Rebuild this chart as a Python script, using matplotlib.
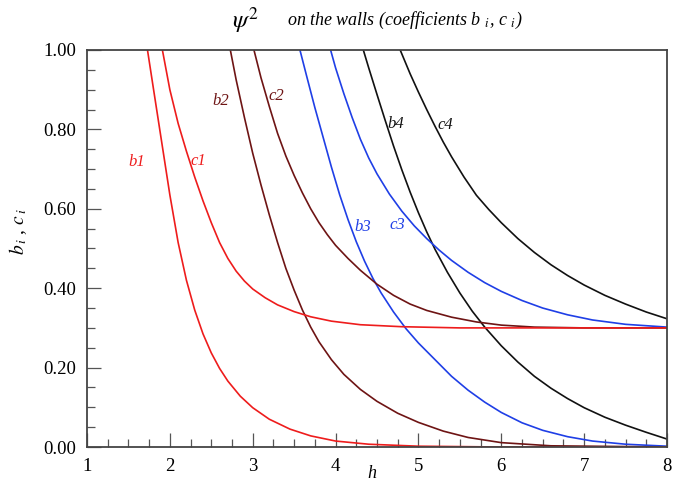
"""Recreate the psi^2 wall-coefficient chart (b_i, c_i vs h)."""
import matplotlib
matplotlib.use("Agg")
import matplotlib.pyplot as plt
from matplotlib.ticker import MultipleLocator

plt.rcParams["font.family"] = ["Liberation Serif", "DejaVu Serif"]
plt.rcParams["mathtext.fontset"] = "stix"

# values
b1_h = [1.73, 1.80, 1.90, 2.00, 2.10, 2.20, 2.30, 2.40, 2.50, 2.60, 2.70, 2.85, 3.00, 3.20,
        3.45, 3.70, 4.00, 4.40, 5.00, 6.00, 8.00]
b1_v = [1.00, 0.905, 0.77, 0.635, 0.515, 0.42, 0.345, 0.285, 0.237, 0.198, 0.166, 0.128, 0.099, 0.070,
        0.045, 0.028, 0.015, 0.007, 0.002, 0.0, 0.0]
c1_h = [1.91, 2.00, 2.10, 2.20, 2.30, 2.40, 2.50, 2.60, 2.70, 2.80, 2.90, 3.00, 3.15, 3.30,
        3.50, 3.70, 3.95, 4.30, 4.80, 5.50, 6.50, 8.00]
c1_v = [1.00, 0.90, 0.815, 0.745, 0.68, 0.62, 0.565, 0.515, 0.475, 0.443, 0.418, 0.398, 0.376, 0.358,
        0.341, 0.328, 0.317, 0.308, 0.303, 0.300, 0.300, 0.300]

b2_h = [2.73, 2.80, 2.90, 3.00, 3.10, 3.20, 3.30, 3.40, 3.50, 3.60, 3.70, 3.80, 3.95, 4.10,
        4.30, 4.50, 4.75, 5.00, 5.30, 5.60, 6.00, 6.60, 8.00]
b2_v = [1.00, 0.925, 0.83, 0.74, 0.66, 0.585, 0.515, 0.45, 0.395, 0.345, 0.302, 0.265, 0.22, 0.183,
        0.145, 0.115, 0.085, 0.062, 0.040, 0.024, 0.011, 0.003, 0.0]
c2_h = [3.015, 3.10, 3.20, 3.30, 3.40, 3.50, 3.60, 3.70, 3.80, 3.90, 4.00, 4.15, 4.30, 4.50,
        4.70, 4.90, 5.10, 5.40, 5.70, 6.00, 6.40, 7.00, 8.00]
c2_v = [1.00, 0.93, 0.858, 0.79, 0.733, 0.684, 0.64, 0.60, 0.565, 0.535, 0.508, 0.475, 0.445, 0.41,
        0.382, 0.36, 0.344, 0.327, 0.315, 0.307, 0.302, 0.300, 0.300]

b3_h = [3.57, 3.65, 3.75, 3.85, 3.95, 4.05, 4.15, 4.25, 4.35, 4.45, 4.55, 4.70, 4.85, 5.00,
        5.20, 5.40, 5.60, 5.80, 6.00, 6.25, 6.50, 6.80, 7.10, 7.50, 8.00]
b3_v = [1.00, 0.935, 0.855, 0.78, 0.705, 0.635, 0.573, 0.517, 0.468, 0.425, 0.388, 0.340, 0.298, 0.262,
        0.220, 0.178, 0.143, 0.113, 0.087, 0.061, 0.042, 0.026, 0.015, 0.007, 0.002]
c3_h = [3.94, 4.00, 4.10, 4.20, 4.30, 4.40, 4.50, 4.65, 4.80, 4.95, 5.10, 5.25, 5.40, 5.60,
        5.80, 6.00, 6.25, 6.50, 6.80, 7.10, 7.50, 8.00]
c3_v = [1.00, 0.955, 0.89, 0.83, 0.775, 0.728, 0.688, 0.637, 0.594, 0.557, 0.525, 0.496, 0.470, 0.440,
        0.414, 0.392, 0.369, 0.350, 0.333, 0.320, 0.309, 0.302]

b4_h = [4.335, 4.40, 4.50, 4.60, 4.70, 4.80, 4.90, 5.00, 5.10, 5.20, 5.35, 5.50, 5.65, 5.80,
        6.00, 6.20, 6.40, 6.60, 6.80, 7.00, 7.25, 7.50, 7.75, 8.00]
b4_v = [1.00, 0.955, 0.888, 0.822, 0.758, 0.698, 0.642, 0.590, 0.542, 0.498, 0.440, 0.388, 0.342, 0.302,
        0.255, 0.214, 0.178, 0.148, 0.122, 0.099, 0.075, 0.055, 0.037, 0.020]
c4_h = [4.78, 4.90, 5.00, 5.10, 5.20, 5.30, 5.40, 5.55, 5.70, 5.85, 6.00, 6.20, 6.40, 6.60,
        6.80, 7.00, 7.25, 7.50, 7.75, 8.00]
c4_v = [1.00, 0.94, 0.894, 0.85, 0.808, 0.768, 0.731, 0.68, 0.634, 0.598, 0.565, 0.525, 0.49, 0.459,
        0.432, 0.408, 0.382, 0.36, 0.34, 0.323]

RED = "#ee1c1c"
MAROON = "#6e1414"
BLUE = "#1f3fe6"
BLACK = "#111111"

# (h, value, colour, label, label position)
CURVES = [
    (b4_h, b4_v, BLACK, "b4", (4.73, 0.814)),
    (c4_h, c4_v, BLACK, "c4", (5.32, 0.811)),
    (b3_h, b3_v, BLUE, "b3", (4.33, 0.555)),
    (c3_h, c3_v, BLUE, "c3", (4.74, 0.559)),
    (b2_h, b2_v, MAROON, "b2", (2.61, 0.872)),
    (c2_h, c2_v, MAROON, "c2", (3.29, 0.885)),
    (b1_h, b1_v, RED, "b1", (1.60, 0.717)),
    (c1_h, c1_v, RED, "c1", (2.34, 0.720)),
]

fig = plt.figure(figsize=(6.97, 4.83), dpi=100)
ax = fig.add_axes([87 / 697, 36 / 483, 580 / 697, 397 / 483])

for h, v, color, name, (lx, ly) in CURVES:
    ax.plot(h, v, color=color, linewidth=1.2)
    ax.text(lx, ly, name, color=color, fontsize=12, fontstyle="italic",
            ha="center", va="center")

ax.set_xlim(1, 8)
ax.set_ylim(0, 1)
ax.xaxis.set_major_locator(MultipleLocator(1))
ax.xaxis.set_minor_locator(MultipleLocator(0.25))
ax.yaxis.set_major_locator(MultipleLocator(0.2))
ax.yaxis.set_minor_locator(MultipleLocator(0.05))
ax.yaxis.set_major_formatter(lambda v, _: f"{v:.2f}")
ax.tick_params(which="both", direction="in", top=False, right=False,
               color="#555555", width=0.9, labelsize=13.5)
ax.tick_params(which="major", length=10, pad=8)
ax.tick_params(which="minor", length=5.5)
for s in ax.spines.values():
    s.set_color("#444444")
    s.set_linewidth(1.3)

# title: psi^2 drawn a bit larger, rest in italic serif
fig.text(258 / 697, 1 - 20 / 483, r"$\psi^{2}$", ha="right", va="center", fontsize=18)
fig.text(287 / 697, 1 - 20 / 483,
         r"on the walls (coefficients b $_{i}$, c $_{i}$)",
         ha="left", va="center", fontsize=13, fontstyle="italic")
fig.text(18 / 697, 1 - 232 / 483, r"$b_{\,i}$ , $c_{\,i}$", rotation=90,
         ha="center", va="center", fontsize=14)
fig.text(372 / 697, 1 - 474 / 483, "h", ha="center", va="center",
         fontsize=13, fontstyle="italic")

fig.savefig("out.png", dpi=100)
